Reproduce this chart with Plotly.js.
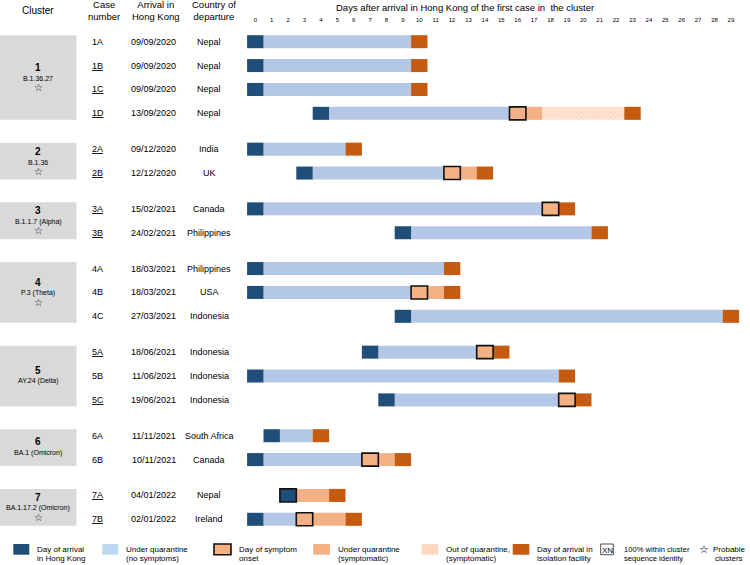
<!DOCTYPE html>
<html>
<head>
<meta charset="utf-8">
<script src="https://cdn.plot.ly/plotly-3.0.1.min.js"></script>
<style>html,body{margin:0;padding:0;background:#fff}#chart{width:750px;height:565px}</style>
</head>
<body>
<div id="chart"></div>
<script>
// ---------------- DATA ----------------
const caseIds      = ['1A','1B','1C','1D','2A','2B','3A','3B','4A','4B','4C','5A','5B','5C','6A','6B','7A','7B'];
const caseCluster  = [1,1,1,1,2,2,3,3,4,4,4,5,5,5,6,6,7,7];
const caseSeqIdent = [false,true,true,true,true,true,true,true,false,false,false,true,false,true,false,false,true,true];
const arrivalDates = ['09/09/2020','09/09/2020','09/09/2020','13/09/2020','09/12/2020','12/12/2020','15/02/2021','24/02/2021',
                      '18/03/2021','18/03/2021','27/03/2021','18/06/2021','11/06/2021','19/06/2021','11/11/2021','10/11/2021',
                      '04/01/2022','02/01/2022'];
const departures   = ['Nepal','Nepal','Nepal','Nepal','India','UK','Canada','Philippines','Philippines','USA','Indonesia',
                      'Indonesia','Indonesia','Indonesia','South Africa','Canada','Nepal','Ireland'];
const arrivalDay   = [0,0,0,4,0,3,0,9,0,0,9,7,0,8,1,0,2,0];
const onsetDay     = [null,null,null,16,null,12,18,null,null,10,null,14,null,19,null,7,2,3];
const releaseDay   = [null,null,null,18,null,null,null,null,null,null,null,null,null,null,null,null,null,null];
const isolationDay = [10,10,10,23,6,14,19,21,12,12,29,15,19,20,4,9,5,6];

const clusterIds      = [1,2,3,4,5,6,7];
const clusterLineages = ['B.1.36.27','B.1.36','B.1.1.7 (Alpha)','P.3 (Theta)','AY.24 (Delta)','BA.1 (Omicron)','BA.1.17.2 (Omicron)'];
const clusterProbable = [true,true,true,true,false,false,true];
const dayTicks = Array.from({length:30},(_,i)=>i);

// ---------------- LAYOUT CONSTANTS ----------------
const W=750, H=565, TOP=24;
const day0Px=255.3, pxPerDay=16.4;
const firstRowPx=41.7, pxPerUnit=23.88, clusterGap=1.5, barW=0.545;
const FONT='"Liberation Sans", Arial, Helvetica, sans-serif';
const C_ARR='#1f4e79', C_Q='#b4c7e7', C_QLEG='#bdd7ee', C_SYM='#f4b183', C_ISO='#c55a11', C_OUT='#fbd8bf';

// row positions (derived)
const rowPos=[]; let u=0;
caseCluster.forEach((c,i)=>{ if(i>0) u += (c!==caseCluster[i-1])?clusterGap:1; rowPos.push(u); });

function seg(){return {y:[],base:[],x:[]};}
const S={arr:seg(),q:seg(),on:seg(),sym:seg(),out:seg(),iso:seg()};
const onColors=[];
function add(s,row,from,to){ if(to<from) return; s.y.push(rowPos[row]); s.base.push(from-0.5); s.x.push(to-from+1); }
caseIds.forEach((id,i)=>{
  const a=arrivalDay[i], o=onsetDay[i], r=releaseDay[i], iso=isolationDay[i];
  add(S.arr,i,a,a);
  add(S.q,i,a+1,(o!==null?o:iso)-1);
  if(o!==null){
    add(S.on,i,o,o); onColors.push(o===a?C_ARR:C_SYM);
    add(S.sym,i,o+1,(r!==null?r:iso)-1);
  }
  if(r!==null) add(S.out,i,r,iso-1);
  add(S.iso,i,iso,iso);
});
function bar(s,marker){return {type:'bar',orientation:'h',y:s.y,x:s.x,base:s.base,width:barW,marker:marker,hoverinfo:'skip',showlegend:false};}
const traces=[
  bar(S.q,{color:C_Q,line:{width:0}}),
  bar(S.sym,{color:C_SYM,line:{width:0}}),
  bar(S.out,{color:C_OUT,line:{width:0},pattern:{shape:'x',fgcolor:'#f8ccad',bgcolor:'#fde6d6',size:3,solidity:0.3}}),
  bar(S.arr,{color:C_ARR,line:{width:0}}),
  bar(S.iso,{color:C_ISO,line:{width:0}}),
  bar(S.on,{color:onColors,line:{color:'#111',width:1.6}})
];

// ---------------- TABLE / LEGEND ----------------
const px=x=>x/W, py=y=>(H-y)/(H-TOP);
const ann=[], shapes=[];
function T(x,y,text,o){o=o||{};ann.push({xref:'paper',yref:o.yref||'paper',x:px(x),y:(o.yref==='y')?y:py(y),text:text,showarrow:false,
  xanchor:o.xa||'center',yanchor:'middle',font:{family:o.family||FONT,size:o.size||9,color:'#000'}});}
// headers
T(38,11,'Cluster',{size:10});
T(104,10.7,'Case<br>number',{size:9.5});
T(156,10.7,'Arrival in<br>Hong Kong',{size:9.5});
T(214,10.7,'Country of<br>departure',{size:9.5});
T(465,7,'Days after arrival in Hong Kong of the first case in  the cluster',{size:9.5});
// rows
caseIds.forEach((id,i)=>{
  T(97.5,rowPos[i],caseSeqIdent[i]?'<u>'+id+'</u>':id,{yref:'y'});
  T(153.8,rowPos[i],arrivalDates[i],{yref:'y'});
  T(209,rowPos[i],departures[i],{yref:'y'});
});
// cluster boxes
clusterIds.forEach((c,k)=>{
  const rows=rowPos.filter((_,i)=>caseCluster[i]===c);
  const y0=rows[0]-barW/2, y1=rows[rows.length-1]+barW/2, mid=(y0+y1)/2;
  shapes.push({type:'rect',xref:'paper',yref:'y',x0:0,x1:px(76.5),y0:y0,y1:y1,fillcolor:'#d9d9d9',line:{width:0},layer:'below'});
  const pu=1/pxPerUnit;
  if(clusterProbable[k]){
    T(38,mid-10*pu,'<b>'+c+'</b>',{yref:'y',size:10});
    T(38,mid+1*pu,clusterLineages[k],{yref:'y',size:7});
    T(38,mid+10*pu,'☆',{yref:'y',size:10,family:'"DejaVu Sans", sans-serif'});
  } else {
    T(38,mid-6*pu,'<b>'+c+'</b>',{yref:'y',size:10});
    T(38,mid+5*pu,clusterLineages[k],{yref:'y',size:7});
  }
});
// legend
function sw(x0,x1,fill,line){shapes.push({type:'rect',xref:'paper',yref:'paper',x0:px(x0),x1:px(x1),y0:py(554.7),y1:py(544),fillcolor:fill,line:line||{width:0}});}
function lt(x,l1,l2,xa,sz){T(x,549.7,l1,{xa:xa||'left',size:sz||8}); T(x,558.7,l2,{xa:xa||'left',size:sz||8});}
sw(13.3,29.3,C_ARR); lt(35,'Day of arrival','in Hong Kong');
sw(102.3,118.3,C_QLEG); lt(124.3,'Under quarantine','(no symptoms)');
sw(214,231,C_SYM,{color:'#111',width:1.6}); lt(236.7,'Day of symptom','onset');
sw(313.3,330,C_SYM); lt(336,'Under quarantine','(symptomatic)');
sw(421.7,438.3,C_OUT); lt(444.3,'Out of quarantine,','(symptomatic)');
sw(512.7,529.3,C_ISO); lt(535,'Day of arrival in','isolation facility');
sw(600.7,613.3,'rgba(0,0,0,0)',{color:'#222',width:0.8}); T(607,550.3,'XN',{size:8});
lt(622,'100% within cluster','sequence identity','left',7.6);
T(704,549.5,'☆',{size:11,family:'"DejaVu Sans", sans-serif'});
lt(729,'Probable','clusters','center');

const layout={
  width:W,height:H,margin:{l:0,r:0,t:TOP,b:0},paper_bgcolor:'#fff',plot_bgcolor:'rgba(0,0,0,0)',
  barmode:'overlay',showlegend:false,
  xaxis:{range:[-day0Px/pxPerDay,(W-day0Px)/pxPerDay],side:'top',tickvals:dayTicks,ticktext:dayTicks.map(String),
         showgrid:false,zeroline:false,showline:false,ticks:'',tickfont:{family:FONT,size:6,color:'#000'},fixedrange:true},
  yaxis:{range:[(H-firstRowPx)/pxPerUnit,-(firstRowPx-TOP)/pxPerUnit],showgrid:false,zeroline:false,showline:false,
         showticklabels:false,ticks:'',fixedrange:true},
  annotations:ann,shapes:shapes
};
Plotly.newPlot('chart',traces,layout,{displayModeBar:false,staticPlot:true});
</script>
</body>
</html>
